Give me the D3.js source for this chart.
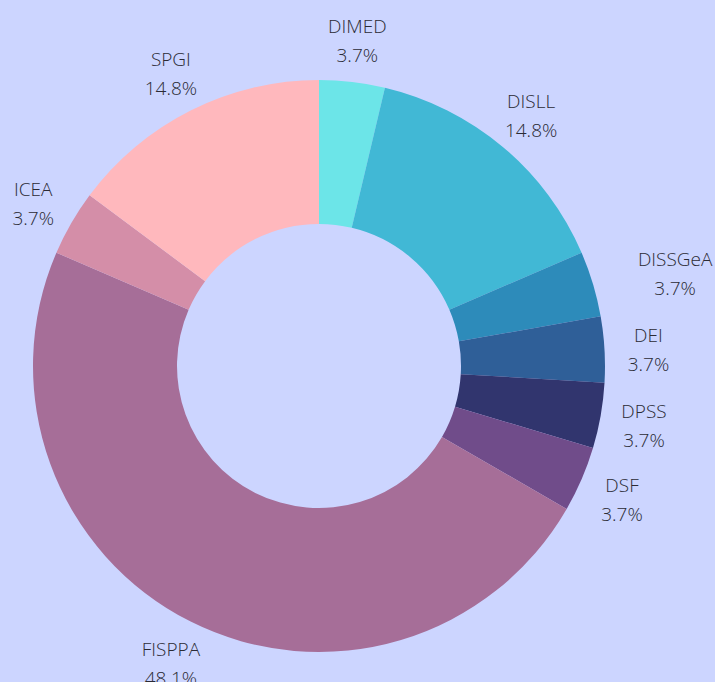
<!DOCTYPE html>
<html>
<head>
<meta charset="utf-8">
<script src="https://cdn.jsdelivr.net/npm/d3@7"></script>
<style>
  html, body { margin: 0; padding: 0; background: #ccd5ff; }
  svg { display: block; }
  .label { font-family: "Open Sans", sans-serif; font-size: 19px; font-weight: 300; fill: #2b2b35; }
</style>
</head>
<body>
<svg width="715" height="682"></svg>
<script>
// departments and their counts (27 in total)
const departments = ["DIMED", "DISLL", "DISSGeA", "DEI", "DPSS", "DSF", "FISPPA", "ICEA", "SPGI"];
const counts = [1, 4, 1, 1, 1, 1, 13, 1, 4];
const colors = ["#6ce5e8", "#41b8d5", "#2d8bba", "#2f5f98", "#31356e", "#704c8a", "#a66e98", "#d48ea8", "#ffb8bd"];
// small horizontal nudges for labels that would crowd the ring
const labelShift = [0, 0, 40, 0, 0, 0, 0, 0, 0];

const svg = d3.select("svg");
const cx = 319, cy = 366;
const outerR = 286, innerR = 142, labelR = 330;

const data = departments.map((d, i) => ({ name: d, value: counts[i], color: colors[i], shift: labelShift[i] }));
const total = d3.sum(counts);

const pie = d3.pie().value((d) => d.value).sort(null);
const arc = d3.arc().innerRadius(innerR).outerRadius(outerR);
const labelArc = d3.arc().innerRadius(labelR).outerRadius(labelR);

const g = svg.append("g").attr("transform", `translate(${cx},${cy})`);

g.selectAll("path")
  .data(pie(data))
  .enter()
  .append("path")
  .attr("d", arc)
  .attr("fill", (d) => d.data.color);

const fmt = d3.format(".1%");

const labels = g.selectAll("text.label")
  .data(pie(data))
  .enter()
  .append("text")
  .attr("class", "label")
  .attr("text-anchor", "middle")
  .attr("transform", (d) => {
    const [x, y] = labelArc.centroid(d);
    return `translate(${x + d.data.shift},${y})`;
  });

labels.append("tspan").attr("x", 0).attr("y", -5).text((d) => d.data.name);
labels.append("tspan").attr("x", 0).attr("y", 24).text((d) => fmt(d.data.value / total));
</script>
</body>
</html>
